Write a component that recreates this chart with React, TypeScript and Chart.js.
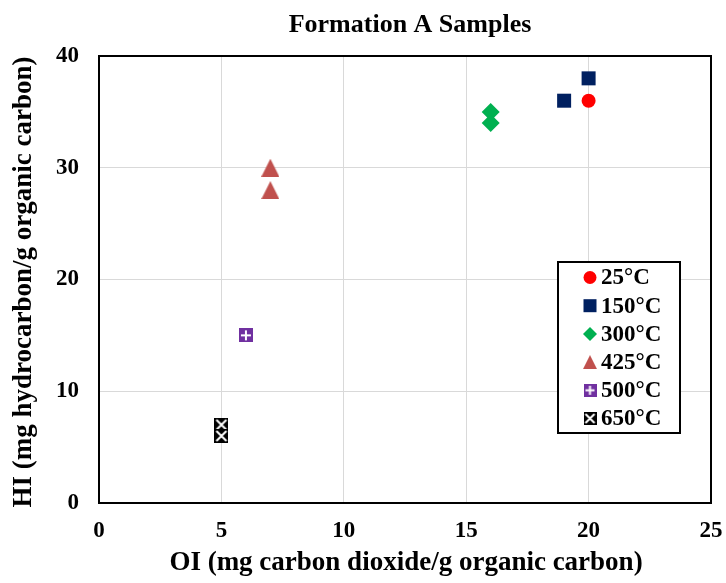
import React, { useEffect, useRef } from "react";
import { Chart, registerables } from "chart.js";

Chart.register(...registerables);

const chartTitle = "Formation A Samples";
const xTitle = "OI (mg carbon dioxide/g organic carbon)";
const yTitle = "HI (mg hydrocarbon/g organic carbon)";

const seriesLabels = ["25°C", "150°C", "300°C", "425°C", "500°C", "650°C"];
const seriesColors = ["#FF0000", "#002060", "#00B050", "#C0504D", "#7030A0", "#000000"];

const oi25 = [20];
const hi25 = [36];
const oi150 = [19, 20];
const hi150 = [36, 38];
const oi300 = [16, 16];
const hi300 = [35, 34];
const oi425 = [7, 7];
const hi425 = [30, 28];
const oi500 = [6];
const hi500 = [15];
const oi650 = [5, 5];
const hi650 = [7, 6];

const xMin = 0, xMax = 25, xStep = 5;
const yMin = 0, yMax = 40, yStep = 10;

const FONT = "'Liberation Serif', 'Times New Roman', serif";

function makeCanvas(w: number, h: number, draw: (ctx: CanvasRenderingContext2D) => void) {
  const c = document.createElement("canvas");
  c.width = w;
  c.height = h;
  const ctx = c.getContext("2d")!;
  draw(ctx);
  return c;
}

function triangleImg(size: number, color: string) {
  return makeCanvas(size, size, (ctx) => {
    ctx.fillStyle = color;
    ctx.beginPath();
    ctx.moveTo(size / 2, 0);
    ctx.lineTo(size, size);
    ctx.lineTo(0, size);
    ctx.closePath();
    ctx.fill();
  });
}

function plusImg(size: number, color: string) {
  return makeCanvas(size, size, (ctx) => {
    ctx.fillStyle = color;
    ctx.fillRect(0, 0, size, size);
    ctx.strokeStyle = "#ffffff";
    ctx.lineWidth = 2;
    ctx.beginPath();
    ctx.moveTo(size / 2, 2);
    ctx.lineTo(size / 2, size - 2);
    ctx.moveTo(2, size / 2);
    ctx.lineTo(size - 2, size / 2);
    ctx.stroke();
  });
}

function crossImg(size: number, color: string) {
  return makeCanvas(size, size, (ctx) => {
    ctx.fillStyle = color;
    ctx.fillRect(0, 0, size, size);
    ctx.strokeStyle = "#ffffff";
    ctx.lineWidth = 2;
    ctx.beginPath();
    ctx.moveTo(2, 2);
    ctx.lineTo(size - 2, size - 2);
    ctx.moveTo(size - 2, 2);
    ctx.lineTo(2, size - 2);
    ctx.stroke();
  });
}

function toPts(xs: number[], ys: number[]) {
  return xs.map((x, i) => ({ x, y: ys[i] }));
}

function drawLegendMarker(ctx: CanvasRenderingContext2D, i: number, x: number, y: number) {
  const c = seriesColors[i];
  const s = 13;
  ctx.save();
  ctx.fillStyle = c;
  if (i === 0) {
    ctx.beginPath();
    ctx.arc(x, y, s / 2, 0, Math.PI * 2);
    ctx.fill();
  } else if (i === 1) {
    ctx.fillRect(x - s / 2, y - s / 2, s, s);
  } else if (i === 2) {
    ctx.beginPath();
    ctx.moveTo(x, y - 7);
    ctx.lineTo(x + 7, y);
    ctx.lineTo(x, y + 7);
    ctx.lineTo(x - 7, y);
    ctx.closePath();
    ctx.fill();
  } else if (i === 3) {
    ctx.drawImage(triangleImg(14, c), x - 7, y - 7);
  } else if (i === 4) {
    ctx.drawImage(plusImg(s, c), x - s / 2, y - s / 2);
  } else {
    ctx.drawImage(crossImg(s, c), x - s / 2, y - s / 2);
  }
  ctx.restore();
}

const decorPlugin = {
  id: "decor",
  beforeDatasetsDraw(chart: any) {
    const { ctx, chartArea } = chart;
    ctx.save();
    ctx.strokeStyle = "#000000";
    ctx.lineWidth = 2;
    ctx.strokeRect(chartArea.left, chartArea.top, chartArea.right - chartArea.left, chartArea.bottom - chartArea.top);
    ctx.restore();
  },
  afterDraw(chart: any) {
    const { ctx, chartArea } = chart;
    ctx.save();
    ctx.fillStyle = "#000000";
    ctx.textAlign = "center";
    ctx.textBaseline = "alphabetic";
    ctx.font = `bold 26px ${FONT}`;
    ctx.fillText(chartTitle, 410, 32);
    ctx.font = `bold 27px ${FONT}`;
    ctx.fillText(xTitle, 406, 570);
    ctx.save();
    ctx.translate(31, 282);
    ctx.rotate(-Math.PI / 2);
    ctx.fillText(yTitle, 0, 0);
    ctx.restore();

    // legend
    const lx = 558, ly = 262, lw = 122, lh = 171;
    ctx.fillStyle = "#ffffff";
    ctx.fillRect(lx, ly, lw, lh);
    ctx.strokeStyle = "#000000";
    ctx.lineWidth = 2;
    ctx.strokeRect(lx, ly, lw, lh);
    ctx.font = `bold 23px ${FONT}`;
    ctx.textAlign = "left";
    ctx.textBaseline = "middle";
    seriesLabels.forEach((lab, i) => {
      const y = 277.5 + i * 28.2;
      drawLegendMarker(ctx, i, 590, y);
      ctx.fillStyle = "#000000";
      ctx.fillText(lab, 601, y + 1);
    });
    ctx.restore();
  },
};

export default function App() {
  const ref = useRef<HTMLCanvasElement | null>(null);
  useEffect(() => {
    document.body.style.margin = "0";
    const canvas = ref.current!;
    const chart = new Chart(canvas, {
      type: "scatter",
      data: {
        datasets: [
          { label: seriesLabels[0], data: toPts(oi25, hi25), pointStyle: "circle", pointRadius: 7, backgroundColor: seriesColors[0], borderWidth: 0 },
          { label: seriesLabels[1], data: toPts(oi150, hi150), pointStyle: "rect", pointRadius: 9.9, backgroundColor: seriesColors[1], borderWidth: 0 },
          { label: seriesLabels[2], data: toPts(oi300, hi300), pointStyle: "rectRot", pointRadius: 9, backgroundColor: seriesColors[2], borderWidth: 0 },
          { label: seriesLabels[3], data: toPts(oi425, hi425), pointStyle: triangleImg(18, seriesColors[3]) as any, pointRadius: 9, backgroundColor: seriesColors[3], borderWidth: 0 },
          { label: seriesLabels[4], data: toPts(oi500, hi500), pointStyle: plusImg(14, seriesColors[4]) as any, pointRadius: 7, backgroundColor: seriesColors[4], borderWidth: 0 },
          { label: seriesLabels[5], data: toPts(oi650, hi650), pointStyle: crossImg(14, seriesColors[5]) as any, pointRadius: 7, backgroundColor: seriesColors[5], borderWidth: 0 },
        ],
      },
      options: {
        animation: false,
        responsive: false,
        maintainAspectRatio: false,
        layout: { padding: { top: 56, right: 15, left: 0, bottom: 0 } },
        plugins: {
          legend: { display: false },
          title: { display: false },
          tooltip: { enabled: false },
        },
        scales: {
          x: {
            type: "linear",
            min: xMin,
            max: xMax,
            ticks: { stepSize: xStep, color: "#000", font: { family: FONT, size: 23, weight: "bold" }, padding: 14 },
            grid: { color: "#d9d9d9", drawTicks: false },
            border: { display: false },
            afterFit: (s: any) => { s.height = 80; s.paddingLeft = 0; s.paddingRight = 0; },
          },
          y: {
            type: "linear",
            min: yMin,
            max: yMax,
            ticks: { stepSize: yStep, color: "#000", font: { family: FONT, size: 23, weight: "bold" }, padding: 20 },
            grid: { color: "#d9d9d9", drawTicks: false },
            border: { display: false },
            afterFit: (s: any) => { s.width = 99; s.paddingTop = 0; s.paddingBottom = 0; },
          },
        },
      },
      plugins: [decorPlugin],
    });
    return () => chart.destroy();
  }, []);
  return (
    <div style={{ width: 726, height: 583 }}>
      <canvas ref={ref} width={726} height={583} style={{ display: "block" }} />
    </div>
  );
}
